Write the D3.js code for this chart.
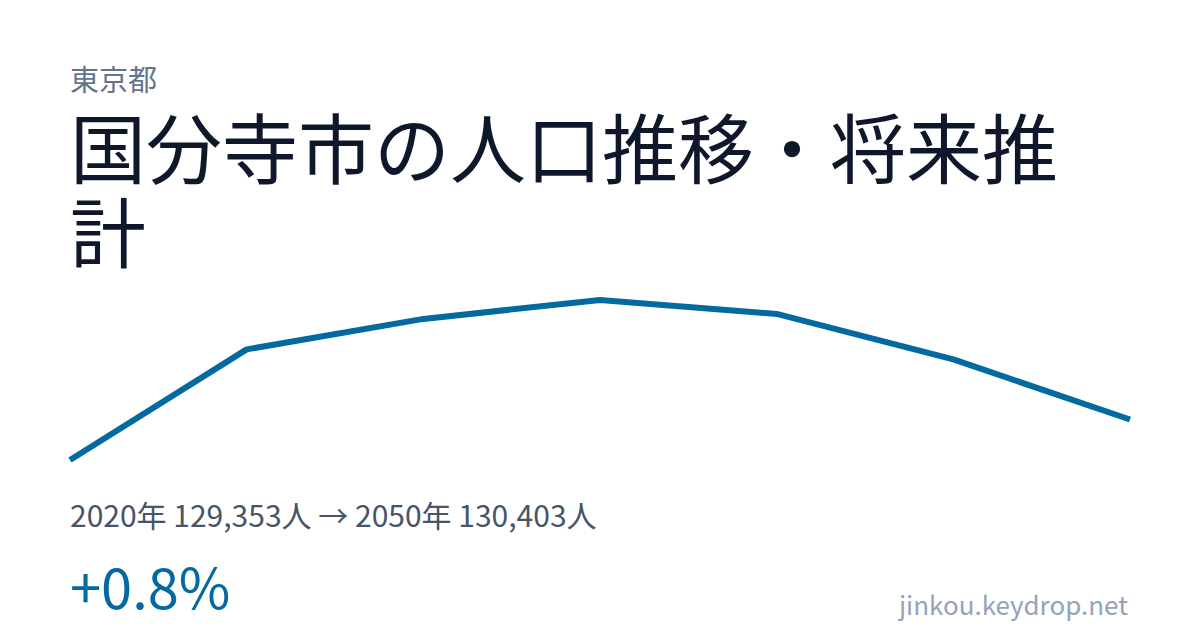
<!DOCTYPE html>
<html>
<head>
<meta charset="utf-8">
<script src="https://cdn.jsdelivr.net/npm/d3@7"></script>
<style>
  html, body { margin: 0; padding: 0; background: #fff; }
  svg { display: block; font-family: "Noto Sans CJK JP", "Noto Sans", sans-serif; }
</style>
</head>
<body>
<svg id="chart" width="1200" height="630"></svg>
<script>
const years = [2020, 2025, 2030, 2035, 2040, 2045, 2050];
const population = [129353, 132220, 133010, 133500, 133140, 131960, 130403];

const prefecture = "東京都";
const titleLines = ["国分寺市の人口推移・将来推", "計"];
const summary = "2020年 129,353人 → 2050年 130,403人";
const change = "+0.8%";
const site = "jinkou.keydrop.net";

const width = 1200, height = 630;
const svg = d3.select("#chart");

svg.append("rect").attr("width", width).attr("height", height).attr("fill", "#fff");

svg.append("text")
    .attr("x", 70).attr("y", 91)
    .attr("fill", "#64748b")
    .style("font-size", "29px")
    .text(prefecture);

svg.append("g").selectAll("text")
    .data(titleLines)
    .enter()
    .append("text")
    .attr("x", 70)
    .attr("y", (d, i) => 178 + i * 84)
    .attr("fill", "#0f172a")
    .style("font-size", "76px")
    .text(d => d);

const x = d3.scaleLinear().domain(d3.extent(years)).range([70, 1130]);
const y = d3.scaleLinear().domain(d3.extent(population)).range([460, 300]);

const line = d3.line()
    .x((d, i) => x(years[i]))
    .y(d => y(d));

svg.append("path")
    .datum(population)
    .attr("d", line)
    .attr("fill", "none")
    .attr("stroke", "#0369a1")
    .attr("stroke-width", 6)
    .attr("stroke-linejoin", "round");

svg.append("text")
    .attr("x", 70).attr("y", 527)
    .attr("fill", "#475569")
    .style("font-size", "30px")
    .text(summary);

svg.append("text")
    .attr("x", 70).attr("y", 609)
    .attr("fill", "#0369a1")
    .style("font-size", "56px")
    .text(change);

svg.append("text")
    .attr("x", 1128).attr("y", 615)
    .attr("text-anchor", "end")
    .attr("fill", "#94a3b8")
    .style("font-size", "26px")
    .text(site);
</script>
</body>
</html>
